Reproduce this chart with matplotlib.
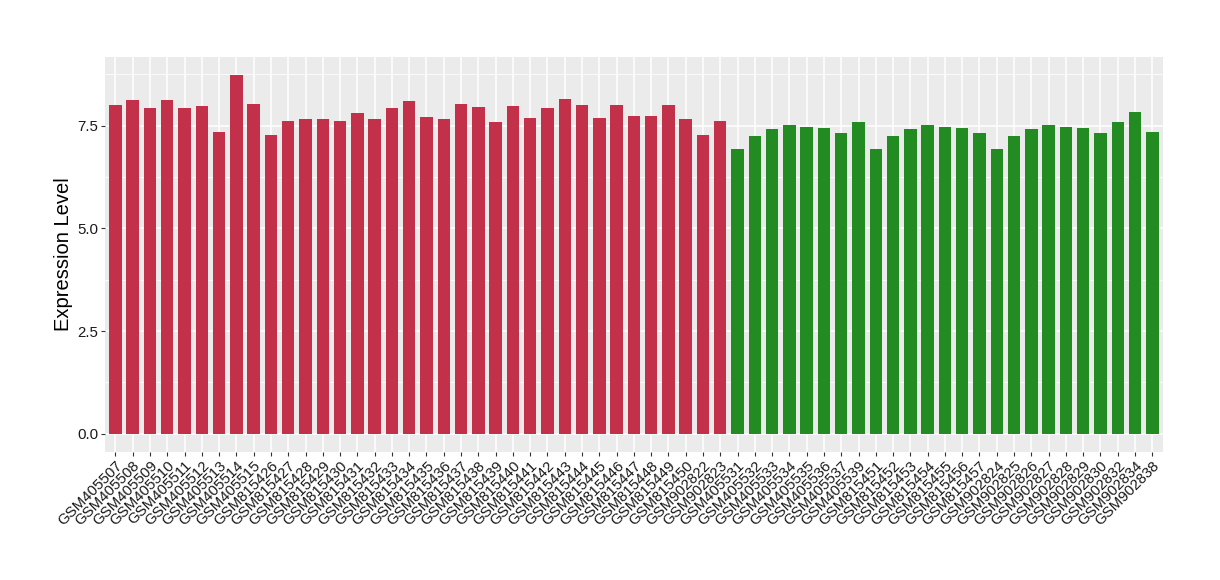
import matplotlib
matplotlib.use("Agg")
import matplotlib.pyplot as plt
import numpy as np

plt.rcParams["font.family"] = ["Liberation Sans", "DejaVu Sans"]

red_samples = [
    "GSM405507", "GSM405508", "GSM405509", "GSM405510", "GSM405511", "GSM405512",
    "GSM405513", "GSM405514", "GSM405515", "GSM815426", "GSM815427", "GSM815428",
    "GSM815429", "GSM815430", "GSM815431", "GSM815432", "GSM815433", "GSM815434",
    "GSM815435", "GSM815436", "GSM815437", "GSM815438", "GSM815439", "GSM815440",
    "GSM815441", "GSM815442", "GSM815443", "GSM815444", "GSM815445", "GSM815446",
    "GSM815447", "GSM815448", "GSM815449", "GSM815450", "GSM902822", "GSM902823",
]
red_values = [
    8.00, 8.12, 7.92, 8.12, 7.92, 7.97, 7.34, 8.73, 8.02, 7.26, 7.61, 7.65,
    7.65, 7.61, 7.80, 7.65, 7.92, 8.09, 7.70, 7.65, 8.02, 7.95, 7.58, 7.97,
    7.68, 7.92, 8.14, 8.00, 7.68, 8.00, 7.73, 7.73, 8.00, 7.65, 7.26, 7.61,
]

green_samples = [
    "GSM405531", "GSM405532", "GSM405533", "GSM405534", "GSM405535", "GSM405536",
    "GSM405537", "GSM405539", "GSM815451", "GSM815452", "GSM815453", "GSM815454",
    "GSM815455", "GSM815456", "GSM815457", "GSM902824", "GSM902825", "GSM902826",
    "GSM902827", "GSM902828", "GSM902829", "GSM902830", "GSM902832", "GSM902834",
    "GSM902838",
]
green_values = [
    6.92, 7.24, 7.41, 7.51, 7.46, 7.43, 7.31, 7.58, 6.92, 7.24, 7.41, 7.51,
    7.46, 7.43, 7.31, 6.92, 7.24, 7.41, 7.51, 7.46, 7.43, 7.31, 7.58, 7.83,
    7.34,
]

RED = "#C3304A"
GREEN = "#228B22"

labels = red_samples + green_samples
values = red_values + green_values
colors = [RED] * len(red_values) + [GREEN] * len(green_values)
x = np.arange(1, len(labels) + 1)

fig = plt.figure(figsize=(12.2, 5.8), dpi=100)
ax = fig.add_axes([0.0861, 0.2212, 0.953 - 0.0861, 0.9017 - 0.2212])
ax.set_facecolor("#EBEBEB")

ax.bar(x, values, width=0.72, color=colors, zorder=3)

ax.set_xlim(0.4, len(labels) + 0.6)
top = max(values)
ax.set_ylim(-0.05 * top, top * 1.05)

ax.set_yticks([0, 2.5, 5.0, 7.5])
ax.set_yticklabels(["0.0", "2.5", "5.0", "7.5"])
ax.set_yticks([1.25, 3.75, 6.25, 8.75], minor=True)
ax.set_xticks(x)
ax.set_xticklabels(labels, rotation=45, ha="right", va="top", rotation_mode="anchor")

ax.grid(which="major", color="white", lw=1.1, zorder=0)
ax.grid(which="minor", axis="y", color="white", lw=0.55, zorder=0)
ax.set_axisbelow(True)

for s in ax.spines.values():
    s.set_visible(False)
ax.tick_params(axis="both", which="major", length=3, color="#333333",
               labelsize=10.8, labelcolor="#1a1a1a", pad=2)
ax.tick_params(axis="y", which="minor", length=0)

ax.set_ylabel("Expression Level", fontsize=14.5, labelpad=3)

fig.savefig("out.png", dpi=100)
